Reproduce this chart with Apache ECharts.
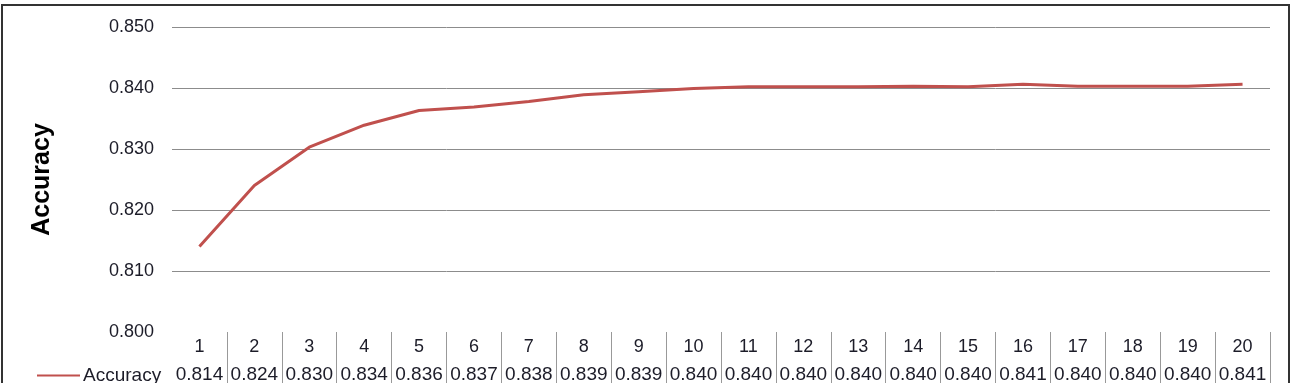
<!DOCTYPE html>
<html>
<head>
<meta charset="utf-8">
<script src="https://cdn.jsdelivr.net/npm/echarts@6/dist/echarts.min.js"></script>
<style>
html,body{margin:0;padding:0;background:#fff;overflow:hidden;}
#wrap{position:relative;width:1296px;height:383px;}
#chart{position:absolute;left:0;top:0;width:1296px;height:383px;}
#frame{position:absolute;left:1px;top:4px;width:1285px;height:420px;border:2px solid #333;pointer-events:none;}
</style>
</head>
<body>
<div id="wrap"><div id="chart"></div><div id="frame"></div></div>
<script>
const categories = ['1','2','3','4','5','6','7','8','9','10','11','12','13','14','15','16','17','18','19','20'];
const accuracy = [0.814, 0.824, 0.8303, 0.8339, 0.8363, 0.8369, 0.8378, 0.8389, 0.8394, 0.8399, 0.8402, 0.8402, 0.8402, 0.8403, 0.8402, 0.8406, 0.8403, 0.8403, 0.8403, 0.8406];
const yTicks = [0.800, 0.810, 0.820, 0.830, 0.840, 0.850];
const seriesName = 'Accuracy';
const tableLabels = accuracy.map(v => (Math.round(v * 1000) / 1000).toFixed(3));

const textColor = '#1c1c28';
const font = 'Liberation Sans, Arial, sans-serif';
const chart = echarts.init(document.getElementById('chart'), null, {renderer: 'canvas'});
chart.setOption({
  animation: false,
  backgroundColor: '#fff',
  grid: {left: 172, right: 26, top: 27, bottom: 51, containLabel: false, outerBoundsMode: 'none'},
  legend: {
    data: [{name: seriesName, icon: 'rect'}],
    left: 37, top: 366,
    itemWidth: 43, itemHeight: 2, itemGap: 4,
    padding: 0,
    textStyle: {fontSize: 19, color: textColor, fontFamily: font, padding: [0, 0, 0, -2]}
  },
  xAxis: [
    {
      type: 'category',
      data: categories,
      boundaryGap: true,
      axisLine: {show: false},
      axisTick: {show: true, length: 60, interval: (i) => i > 0, lineStyle: {color: '#999', width: 1}},
      axisLabel: {fontSize: 18, color: textColor, fontFamily: font, margin: 6, interval: 0},
      splitLine: {show: false}
    },
    {
      type: 'category',
      data: tableLabels,
      position: 'bottom',
      offset: 27,
      boundaryGap: true,
      axisLine: {show: false},
      axisTick: {show: false},
      axisLabel: {fontSize: 19, color: textColor, fontFamily: font, margin: 6, interval: 0}
    }
  ],
  yAxis: {
    type: 'value',
    min: yTicks[0],
    max: yTicks[yTicks.length - 1],
    interval: 0.01,
    name: seriesName,
    nameLocation: 'middle',
    nameRotate: 90,
    nameGap: 117,
    nameTextStyle: {fontSize: 25, fontWeight: 'bold', color: '#000', fontFamily: font},
    axisLine: {show: false},
    axisTick: {show: false},
    axisLabel: {fontSize: 18, color: textColor, fontFamily: font, margin: 18, formatter: v => v.toFixed(3)},
    splitLine: {show: true, showMinLine: false, lineStyle: {color: '#8c8c8c', width: 1}}
  },
  series: [{
    name: seriesName,
    type: 'line',
    xAxisIndex: 0,
    data: accuracy,
    showSymbol: false,
    symbol: 'none',
    lineStyle: {color: '#C0504D', width: 3},
    itemStyle: {color: '#C0504D'}
  }]
});
</script>
</body>
</html>
